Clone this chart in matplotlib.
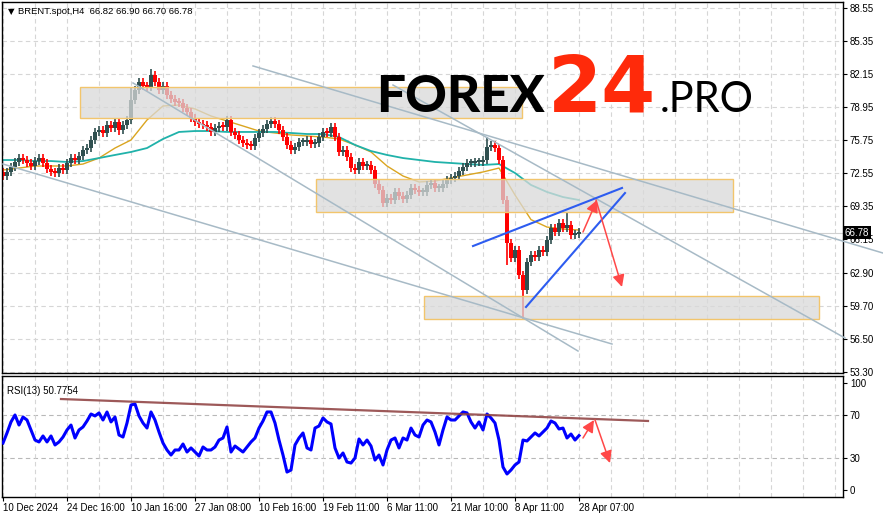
import numpy as np
import matplotlib
matplotlib.use("Agg")
import matplotlib.pyplot as plt
from matplotlib.patches import Rectangle

# H4 closes, one value per 4 px slot of the reference
closes = [72.26, 72.65, 73.13, 73.62, 74.00, 73.81, 73.52, 73.23, 73.71, 74.00,
          73.52, 72.94, 72.65, 72.55, 73.03, 72.84, 73.52, 74.00, 73.81, 74.20,
          74.78, 74.97, 75.75, 76.53, 76.72, 76.43, 77.20, 76.91, 77.50, 76.72,
          77.20, 77.69, 79.63, 80.60, 81.37, 80.99, 80.89, 82.05, 81.37, 80.60,
          80.99, 80.11, 79.73, 79.44, 79.34, 78.85, 78.47, 77.88, 77.50, 77.30,
          77.20, 77.01, 76.53, 76.91, 77.11, 77.01, 77.69, 76.53, 76.24, 75.75,
          75.46, 75.27, 75.17, 75.94, 76.43, 76.82, 77.30, 77.59, 77.30, 76.72,
          76.04, 75.27, 74.78, 75.07, 75.56, 75.56, 75.75, 75.36, 75.46, 76.04,
          76.53, 76.43, 77.01, 76.04, 74.59, 74.78, 74.10, 73.03, 72.84, 73.62,
          73.23, 73.33, 72.84, 71.48, 70.90, 69.64, 70.13, 69.93, 70.71, 70.32,
          70.03, 70.42, 71.10, 70.90, 70.71, 70.71, 71.39, 71.58, 71.10, 71.10,
          71.48, 71.87, 72.07, 72.26, 72.74, 73.13, 73.52, 73.52, 73.62, 73.62,
          73.81, 75.07, 75.27, 74.97, 73.81, 69.93, 65.76, 64.31, 65.08, 62.66,
          61.20, 63.92, 64.60, 64.40, 65.08, 64.89, 66.05, 67.22, 66.83, 67.70,
          67.22, 67.51, 66.54, 66.64, 66.78]
first_open = 72.60
spike_high = {32: 80.8, 37: 82.6, 121: 76.0, 141: 68.7}
spike_low = {29: 76.2, 126: 63.6, 130: 58.4}

rsi = [43.9, 53.3, 63.6, 70.1, 60.7, 68.2, 65.4, 56.1, 46.7, 44.9,
       50.5, 44.9, 50.5, 42.1, 44.9, 49.5, 56.1, 60.7, 48.6, 56.1,
       58.9, 64.5, 71.0, 69.2, 72.0, 65.4, 72.9, 63.6, 68.2, 51.4,
       49.5, 62.6, 79.4, 80.4, 69.2, 62.6, 57.9, 72.9, 65.4, 54.2,
       43.9, 37.4, 32.7, 37.4, 37.4, 43.0, 35.5, 39.3, 35.5, 31.8,
       40.2, 37.4, 37.4, 40.2, 46.7, 48.6, 58.9, 35.5, 41.1, 38.3,
       35.5, 40.2, 44.9, 48.6, 57.9, 64.5, 72.9, 72.9, 62.6, 46.7,
       32.7, 16.8, 18.7, 42.1, 48.6, 53.3, 39.3, 37.4, 57.9, 59.8,
       67.3, 63.6, 61.7, 39.3, 29.9, 34.6, 26.2, 25.2, 29.9, 47.7,
       42.1, 46.7, 41.1, 28.0, 32.7, 23.4, 37.4, 46.7, 48.6, 39.3,
       48.6, 46.7, 57.9, 51.4, 49.5, 60.7, 65.4, 63.6, 54.2, 42.1,
       56.1, 68.2, 65.4, 65.4, 69.2, 72.9, 72.0, 63.6, 57.9, 63.6,
       56.1, 71.0, 67.3, 62.6, 46.7, 21.5, 15.0, 18.7, 23.4, 26.2,
       46.7, 45.8, 49.5, 53.3, 50.5, 54.2, 57.9, 64.5, 62.6, 57.0,
       57.9, 48.6, 52.3, 46.7, 50.8]

# moving averages sampled every 4 bars
ma_fast = [72.84, 73.03, 73.23, 73.23, 73.23, 73.42, 74.00, 74.97, 75.75, 77.69,
           79.05, 79.14, 78.76, 78.08, 77.59, 77.11, 76.62, 76.43, 76.24, 76.14,
           76.04, 75.85, 75.27, 74.59, 73.23, 72.26, 71.68, 71.77, 72.07, 72.36,
           72.65, 73.03, 70.42, 68.03, 67.31, 67.12, 67.02]
ma_slow = [73.81, 73.81, 73.71, 73.71, 73.62, 73.71, 74.00, 74.30, 74.59, 74.97,
           75.85, 76.53, 76.62, 76.62, 76.53, 76.53, 76.53, 76.53, 76.43, 76.33,
           76.33, 76.04, 75.27, 74.68, 74.30, 74.00, 73.81, 73.62, 73.52, 73.42,
           73.33, 73.42, 72.55, 71.39, 70.71, 70.22, 69.93]

price_ticks = [88.55, 85.35, 82.15, 78.95, 75.75, 72.55, 69.35, 66.15, 62.90, 59.70, 56.50, 53.30]
rsi_ticks = [100, 70, 30, 0]
date_labels = ["10 Dec 2024", "24 Dec 16:00", "10 Jan 16:00", "27 Jan 08:00", "10 Feb 16:00",
               "19 Feb 11:00", "6 Mar 11:00", "21 Mar 10:00", "8 Apr 11:00", "28 Apr 07:00"]

# zones (bar from, bar to, price low, price high)
zones = [(19.25, 129.75, 77.88, 80.85),
         (78.25, 182.5, 68.77, 71.97),
         (105.25, 204.0, 58.39, 60.62)]
grey_lines = [((62.5, 82.93), (220.0, 64.79)),
              ((32.5, 81.28), (143.75, 55.29)),
              ((0.0, 73.42), (152.25, 55.97)),
              ((97.5, 81.08), (210.5, 56.55))]
blue_lines = [((117.5, 65.47), (154.75, 71.10)),
              ((130.75, 59.56), (155.5, 70.61))]
price_arrows = [((145.0, 66.83), (148.5, 69.93)),
                ((148.25, 69.93), (154.75, 61.50))]
rsi_arrows = [((145.0, 48.6), (147.75, 65.4)),
              ((148.0, 65.4), (151.75, 25.2))]
rsi_trend = ((14.5, 85.0), (161.25, 64.5))

small = "Liberation Sans"
W, H = 883, 518
fig = plt.figure(figsize=(W / 100, H / 100), dpi=100)
ax = fig.add_axes([2 / W, 1 - 373 / H, 841 / W, 371 / H])
ax2 = fig.add_axes([2 / W, 1 - 497 / H, 841 / W, 121 / H])

grid_kw = dict(color="#d6d6d6", lw=0.8, ls=(0, (4, 3)), zorder=0)
xgrid = np.arange(0, 210, 8)

# ---- price panel
n = len(closes)
x = np.arange(n)
opens = [first_open] + closes[:-1]
for i in range(n):
    o, c = opens[i], closes[i]
    col = "#2f4f4f" if c >= o else "#ff0000"
    hi = spike_high.get(i, max(o, c) + 0.4)
    lo = spike_low.get(i, min(o, c) - 0.4)
    ax.vlines(x[i], lo, hi, color=col, lw=1.2, zorder=2)
    ax.bar(x[i], max(abs(c - o), 0.15), bottom=min(o, c), width=0.8, color=col, zorder=2)

xm = np.arange(0, n, 4)
ax.plot(xm, ma_fast, color="#daa520", lw=1, zorder=1.5)
ax.plot(xm, ma_slow, color="#20b2aa", lw=1.3, zorder=1.5)

for x0, x1, p0, p1 in zones:
    ax.add_patch(Rectangle((x0, p0), x1 - x0, p1 - p0, facecolor="#d9d9d9", alpha=0.75,
                           edgecolor="none", zorder=3))
    ax.add_patch(Rectangle((x0, p0), x1 - x0, p1 - p0, facecolor="none",
                           edgecolor="#f2c56c", lw=1, zorder=3.1))

for (a, b) in grey_lines:
    ax.plot([a[0], b[0]], [a[1], b[1]], color="#a7bac6", lw=1.1, zorder=4, clip_on=False)
for (a, b) in blue_lines:
    ax.plot([a[0], b[0]], [a[1], b[1]], color="#2d5cf0", lw=1.5, zorder=5)
for (a, b) in price_arrows:
    ax.annotate("", xy=b, xytext=a, zorder=6,
                arrowprops=dict(arrowstyle="-|>", color="#ff4848", lw=1.1, mutation_scale=18,
                                shrinkA=0, shrinkB=0))

ax.axhline(closes[-1], color="#d0d0d0", lw=0.8, zorder=0.5)
ax.set_xlim(-0.25, 210)
ax.set_ylim(53.16, 89.13)
ax.set_xticks(xgrid)
ax.tick_params(axis="x", length=0, labelbottom=False)
ax.yaxis.tick_right()
ax.set_yticks(price_ticks)
ax.set_yticklabels([f"{t:.2f}" for t in price_ticks], family=small)
ax.tick_params(axis="y", length=3, width=0.8, pad=2, labelsize=7, colors="black")
for t in price_ticks:
    ax.axhline(t, **grid_kw)
for g in xgrid:
    ax.axvline(g, **grid_kw)
for s in ax.spines.values():
    s.set_color("black")
    s.set_linewidth(1)

ax.text(1.002, closes[-1], f"{closes[-1]:.2f}", transform=ax.get_yaxis_transform(),
        color="white", fontsize=7, family=small, va="center", ha="left", zorder=10,
        clip_on=False, bbox=dict(facecolor="black", edgecolor="none", pad=1.2))
ax.text(0.007, 0.975, "\u25bc", transform=ax.transAxes, fontsize=6, va="center", ha="left")
ax.text(0.019, 0.975, "BRENT.spot,H4  66.82 66.90 66.70 66.78", transform=ax.transAxes,
        fontsize=6.8, family=small, va="center", ha="left")

# ---- RSI panel
ax2.plot(np.arange(len(rsi)), rsi, color="#0000ff", lw=2.2, zorder=3)
ax2.plot([rsi_trend[0][0], rsi_trend[1][0]], [rsi_trend[0][1], rsi_trend[1][1]],
         color="#8c3c3c", lw=1.6, alpha=0.85, zorder=4)
for (a, b) in rsi_arrows:
    ax2.annotate("", xy=b, xytext=a, zorder=6,
                 arrowprops=dict(arrowstyle="-|>", color="#ff4848", lw=1.1, mutation_scale=18,
                                 shrinkA=0, shrinkB=0))
for lvl in [70, 30]:
    ax2.axhline(lvl, color="#b8b8b8", lw=0.8, ls=(0, (4, 3)), zorder=0)
for g in xgrid:
    ax2.axvline(g, **grid_kw)
ax2.set_xlim(-0.25, 210)
ax2.set_ylim(-6.5, 106.5)
ax2.yaxis.tick_right()
ax2.set_yticks(rsi_ticks)
ax2.set_yticklabels([str(t) for t in rsi_ticks], family=small)
ax2.tick_params(axis="y", length=3, width=0.8, pad=2, labelsize=7)
ax2.set_xticks(np.arange(0, 16 * len(date_labels), 16))
ax2.set_xticklabels(date_labels, ha="left", family=small)
ax2.tick_params(axis="x", length=3, width=0.8, pad=1.5, labelsize=7)
for s in ax2.spines.values():
    s.set_color("black")
    s.set_linewidth(1)
ax2.text(0.006, 0.88, "RSI(13) 50.7754", transform=ax2.transAxes, fontsize=7, family=small,
         va="center", ha="left")

# ---- logo
fig.text(376 / W, 1 - 112 / H, "FOREX", fontsize=37, family="Lato", fontweight="black",
         color="black", va="baseline", ha="left", zorder=20)
fig.text(548 / W, 1 - 112 / H, "24", fontsize=56, family="DejaVu Sans", fontweight="bold",
         color="#ff2a0a", va="baseline", ha="left", zorder=20)
fig.text(660 / W, 1 - 112 / H, ".PRO", fontsize=30, family="Lato", fontweight="normal",
         color="black", va="baseline", ha="left", zorder=20)

fig.savefig("out.png", dpi=100, facecolor="white")
